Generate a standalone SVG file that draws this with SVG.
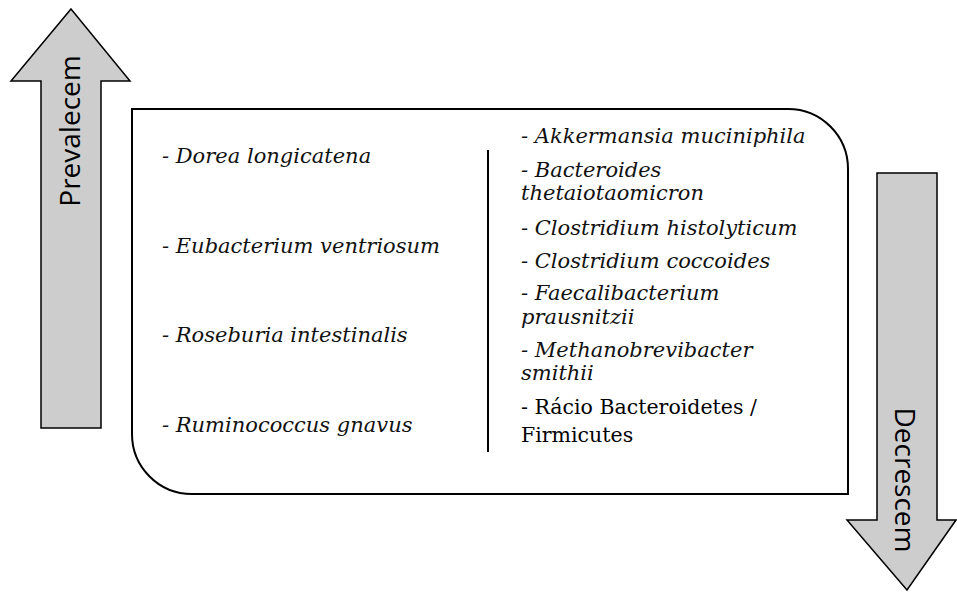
<svg xmlns="http://www.w3.org/2000/svg" width="957" height="592" viewBox="0 0 957 592">
<style>
.arrow{fill:#cdcdcd;stroke:#000;stroke-width:1.5;stroke-linejoin:miter}
.lbl{font-family:"Open Sans",sans-serif;font-size:28px;fill:#000}
.it{font-family:"DejaVu Serif",serif;font-style:italic;font-size:21px;fill:#111}
.rm{font-family:"DejaVu Serif",serif;font-size:20.5px;fill:#000}
</style>
<rect width="957" height="592" fill="#fff"/>
<g id="up-arrow">
<polygon class="arrow" points="71,9 130,81 101,81 101,428 41,428 41,81 11,81"/>
<text class="lbl" transform="translate(80,131) rotate(-90)" text-anchor="middle">Prevalecem</text>
</g>
<g id="down-arrow">
<polygon class="arrow" points="877,173 937,173 937,520 956,520 907,590 847,520 877,520"/>
<text class="lbl" transform="translate(895,480) rotate(90)" text-anchor="middle">Decrescem</text>
</g>
<g id="box">
<path d="M132,109 H788 A60,60 0 0 1 848,169 V494 H192 A60,60 0 0 1 132,434 Z" fill="#fff" stroke="#000" stroke-width="2"/>
<line x1="488" y1="150" x2="488" y2="452" stroke="#000" stroke-width="2"/>
</g>
<g id="left-list">
<text class="it" x="162" y="163">- Dorea longicatena</text>
<text class="it" x="162" y="253">- Eubacterium ventriosum</text>
<text class="it" x="162" y="342">- Roseburia intestinalis</text>
<text class="it" x="162" y="432">- Ruminococcus gnavus</text>
</g>
<g id="right-list">
<text class="it" x="521" y="143">- Akkermansia muciniphila</text>
<text class="it" x="521" y="177">- Bacteroides</text>
<text class="it" x="521" y="200">thetaiotaomicron</text>
<text class="it" x="521" y="235">- Clostridium histolyticum</text>
<text class="it" x="521" y="268">- Clostridium coccoides</text>
<text class="it" x="521" y="300">- Faecalibacterium</text>
<text class="it" x="521" y="324">prausnitzii</text>
<text class="it" x="521" y="357">- Methanobrevibacter</text>
<text class="it" x="521" y="380">smithii</text>
<text class="rm" x="521" y="414">- Rácio Bacteroidetes /</text>
<text class="rm" x="521" y="442">Firmicutes</text>
</g>
</svg>
